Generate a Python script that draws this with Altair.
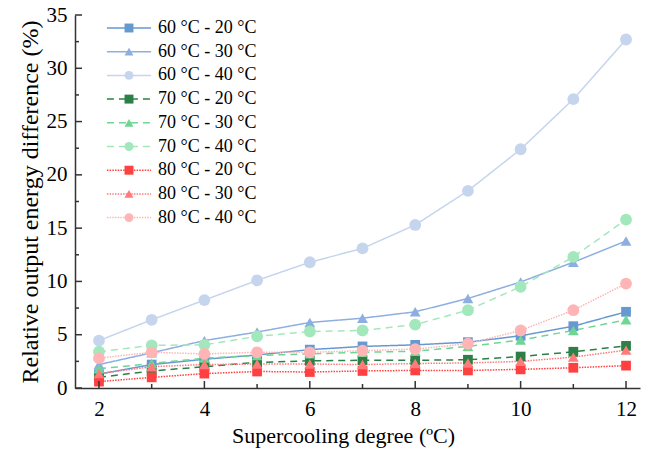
import altair as alt
import pandas as pd

x_vals = [2, 3, 4, 5, 6, 7, 8, 9, 10, 11, 12]

series_names = [
    "60 °C - 20 °C", "60 °C - 30 °C", "60 °C - 40 °C",
    "70 °C - 20 °C", "70 °C - 30 °C", "70 °C - 40 °C",
    "80 °C - 20 °C", "80 °C - 30 °C", "80 °C - 40 °C",
]

s60_20 = [1.3, 2.2, 2.7, 3.1, 3.6, 3.9, 4.05, 4.3, 4.9, 5.8, 7.15]
s60_30 = [2.2, 3.3, 4.45, 5.25, 6.15, 6.55, 7.15, 8.4, 9.95, 11.8, 13.8]
s60_40 = [4.45, 6.4, 8.25, 10.1, 11.8, 13.1, 15.3, 18.5, 22.4, 27.1, 32.7]
s70_20 = [1.0, 1.6, 2.0, 2.4, 2.55, 2.6, 2.6, 2.65, 2.95, 3.4, 3.95]
s70_30 = [1.8, 2.3, 2.8, 3.05, 3.2, 3.35, 3.45, 3.9, 4.5, 5.4, 6.4]
s70_40 = [3.4, 4.0, 4.05, 4.85, 5.3, 5.4, 5.95, 7.3, 9.5, 12.3, 15.8]
s80_20 = [0.6, 1.0, 1.35, 1.55, 1.5, 1.6, 1.65, 1.65, 1.75, 1.9, 2.1]
s80_30 = [1.35, 2.0, 2.2, 2.25, 2.25, 2.2, 2.3, 2.35, 2.5, 2.9, 3.55]
s80_40 = [2.8, 3.35, 3.2, 3.35, 3.35, 3.5, 3.65, 4.15, 5.4, 7.3, 9.8]

all_series = [s60_20, s60_30, s60_40, s70_20, s70_30, s70_40, s80_20, s80_30, s80_40]

x_major = [2, 4, 6, 8, 10, 12]
x_minor = [3, 5, 7, 9, 11]
y_major = [0, 5, 10, 15, 20, 25, 30, 35]
y_minor = [2.5, 7.5, 12.5, 17.5, 22.5, 27.5, 32.5]

colors = ["#6699d0", "#8cafe0", "#c5d5ee",
          "#2a8046", "#6fd594", "#a3e8bd",
          "#ff4040", "#ff7a7a", "#ffb5b5"]
dashes = [[1, 0]] * 3 + [[7, 5]] * 3 + [[1.5, 1.2]] * 3
shape_kinds = ["square", "triangle-up", "circle"]
shapes = shape_kinds * 3
kind_sizes = [95, 140, 105]

# marker keys (kept distinct from line keys so the two legends stay separate)
point_names = [n + " " for n in series_names]

rows = []
for name, pname, kind, vals in zip(series_names, point_names, shapes, all_series):
    for xv, yv in zip(x_vals, vals):
        rows.append({"series": name, "pseries": pname, "kind": kind, "x": xv, "y": yv})
df = pd.DataFrame(rows)

W, H = 565, 373
FONT = "Liberation Serif"

xscale = alt.Scale(domain=[1.545, 12.265], nice=False, zero=False)
yscale = alt.Scale(domain=[0, 35], nice=False)

line_legend = alt.Legend(
    orient="none", legendX=45, legendY=4, title=None, padding=0,
    symbolType="M-5,0H5", symbolSize=78, symbolStrokeWidth=1.5,
    labelFont=FONT, labelFontSize=18, labelColor="black",
    rowPadding=5.7, labelOffset=20,
)
point_legend = alt.Legend(
    orient="none", legendX=45, legendY=4, title=None, padding=0,
    symbolSize=80, symbolStrokeWidth=0,
    labelFont=FONT, labelFontSize=18, labelOpacity=0,
    rowPadding=5.7, labelOffset=20,
)

x_axis = alt.Axis(
    values=x_major, ticks=False, grid=False, domainColor="#333333", domainWidth=1.5,
    labelFont=FONT, labelFontSize=21, labelColor="black", labelPadding=10,
    title="Supercooling degree (ºC)", titleFont=FONT, titleFontSize=22,
    titleFontWeight="normal", titleColor="black", titlePadding=6, titleX=268)
y_axis = alt.Axis(
    values=y_major, ticks=False, grid=False, domainColor="#333333", domainWidth=1.5,
    labelFont=FONT, labelFontSize=21, labelColor="black", labelPadding=8,
    title="Relative output energy difference (%)", titleFont=FONT, titleFontSize=24,
    titleFontWeight="normal", titleColor="black", titlePadding=4)

base = alt.Chart(df)
lines = base.mark_line(strokeWidth=1.5).encode(
    x=alt.X("x:Q", scale=xscale, axis=x_axis),
    y=alt.Y("y:Q", scale=yscale, axis=y_axis),
    color=alt.Color("series:N", scale=alt.Scale(domain=series_names, range=colors),
                    sort=series_names, legend=line_legend),
    strokeDash=alt.StrokeDash("series:N", scale=alt.Scale(domain=series_names, range=dashes),
                              sort=series_names, legend=line_legend),
    detail="series:N",
)
points = base.mark_point(filled=True, opacity=1).encode(
    x=alt.X("x:Q", scale=xscale, axis=x_axis),
    y=alt.Y("y:Q", scale=yscale, axis=y_axis),
    fill=alt.Fill("pseries:N", scale=alt.Scale(domain=point_names, range=colors),
                  sort=point_names, legend=point_legend),
    shape=alt.Shape("pseries:N", scale=alt.Scale(domain=point_names, range=shapes),
                    sort=point_names, legend=point_legend),
    size=alt.Size("kind:N", scale=alt.Scale(domain=shape_kinds, range=kind_sizes),
                  legend=None),
)

tick_color = "#333333"
xmaj = alt.Chart(pd.DataFrame({"x": x_major})).mark_rule(color=tick_color, strokeWidth=1.5).encode(
    x=alt.X("x:Q", scale=xscale, axis=x_axis), y=alt.value(H), y2=alt.value(H - 7))
xmin = alt.Chart(pd.DataFrame({"x": x_minor})).mark_rule(color=tick_color, strokeWidth=1.5).encode(
    x=alt.X("x:Q", scale=xscale, axis=x_axis), y=alt.value(H), y2=alt.value(H - 4))
ymaj = alt.Chart(pd.DataFrame({"y": y_major})).mark_rule(color=tick_color, strokeWidth=1.5).encode(
    y=alt.Y("y:Q", scale=yscale, axis=y_axis), x=alt.value(0), x2=alt.value(7))
ymin = alt.Chart(pd.DataFrame({"y": y_minor})).mark_rule(color=tick_color, strokeWidth=1.5).encode(
    y=alt.Y("y:Q", scale=yscale, axis=y_axis), x=alt.value(0), x2=alt.value(4))

chart = alt.layer(lines, points, xmaj, xmin, ymaj, ymin).properties(
    width=W, height=H,
    autosize=alt.AutoSizeParams(type="none"),
    padding={"left": 75, "top": 15, "right": 6, "bottom": 68},
    background="white",
).configure_view(stroke=None)

chart.save("out.html", embed_options={"renderer": "svg", "actions": False})
